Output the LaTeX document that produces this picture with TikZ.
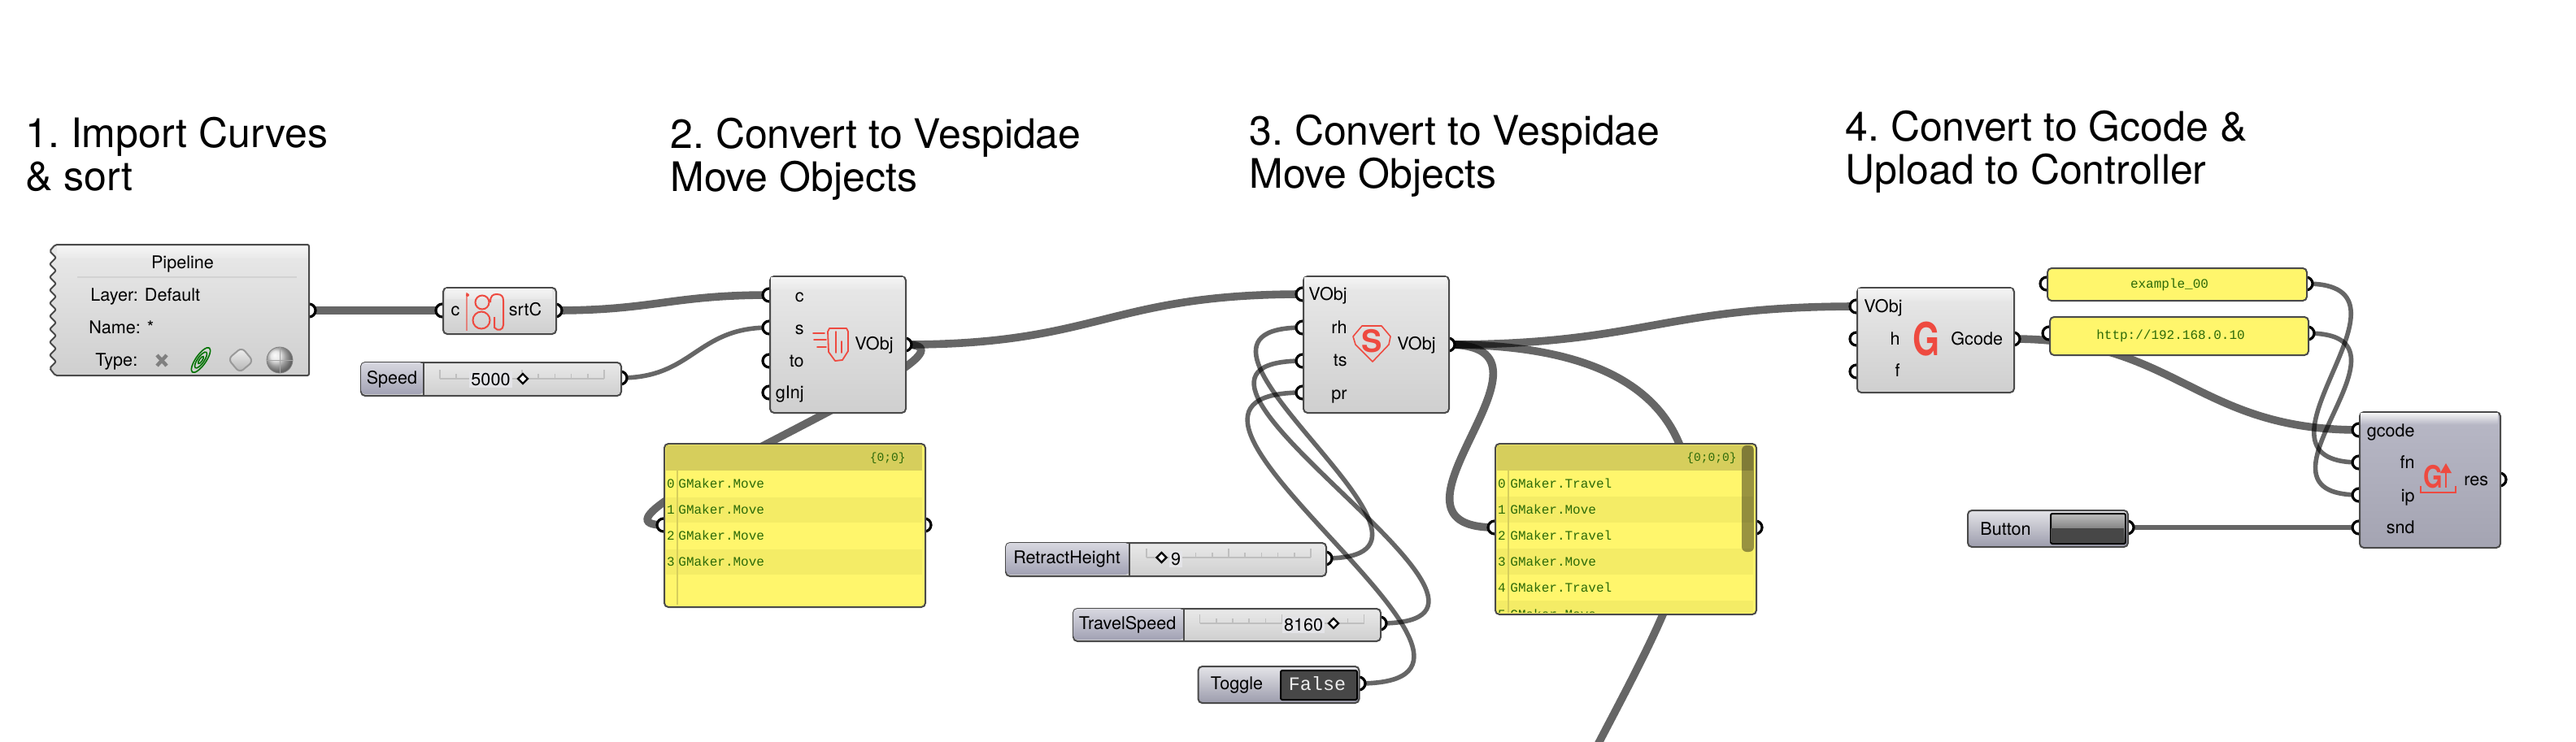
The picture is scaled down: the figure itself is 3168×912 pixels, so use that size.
\documentclass[tikz,border=0pt]{standalone}
\usepackage{fontspec}
\setmainfont{TeX Gyre Heros}
\newfontfamily\monof{Liberation Mono}
\pgfdeclarelayer{bgl}
\pgfdeclarelayer{wires}
\pgfsetlayers{bgl,wires,main}
\definecolor{wirec}{HTML}{000000}
\definecolor{iconred}{HTML}{EE4A40}
\definecolor{edgec}{HTML}{4A4A4A}
\definecolor{paneltxt}{HTML}{2C6A08}
\definecolor{pyellow}{HTML}{FFF66C}
\definecolor{pband}{HTML}{F4EC66}
\definecolor{phead}{HTML}{D6CE5C}
\definecolor{BFBFBF}{HTML}{BFBFBF}
\definecolor{E9E9E9}{HTML}{E9E9E9}
\definecolor{CFCFCF}{HTML}{CFCFCF}
\definecolor{B8B8C6}{HTML}{B8B8C6}
\definecolor{A4A4B2}{HTML}{A4A4B2}
\definecolor{E4E4E8}{HTML}{E4E4E8}
\definecolor{9C9CAC}{HTML}{9C9CAC}
\definecolor{D8D8E0}{HTML}{D8D8E0}
\definecolor{A2A2B4}{HTML}{A2A2B4}
\usetikzlibrary{shapes.geometric}
\tikzset{
  wirethick/.style={draw=wirec,draw opacity=.6,line width=4.8pt},
  wirethin/.style={draw=wirec,draw opacity=.6,line width=2.8pt},
  portn/.style={circle,draw=black,fill=white,line width=1.6pt,minimum size=8pt,inner sep=0pt},
  gcomp/.style={anchor=north west,rounded corners=2.5pt,draw=edgec,line width=1pt,top color=E9E9E9,bottom color=CFCFCF,inner sep=0pt},
  bluecomp/.style={anchor=north west,rounded corners=2.5pt,draw=edgec,line width=1pt,top color=B8B8C6,bottom color=A4A4B2,inner sep=0pt},
  togglebox/.style={anchor=north west,rounded corners=2.5pt,draw=edgec,line width=1pt,top color=E4E4E8,bottom color=9C9CAC,inner sep=0pt},
  panelbox/.style={anchor=north west,rounded corners=2.5pt,draw=edgec,line width=1pt,fill=pyellow,inner sep=0pt},
  lab/.style={font=\fontsize{10.8}{12}\selectfont,inner sep=0pt,text=black},
  ptext/.style={font=\monof\fontsize{8}{9}\selectfont,inner sep=0pt,text=paneltxt},
  ptextb/.style={font=\monof\fontsize{7.3}{9}\selectfont,inner sep=0pt,text=paneltxt},
  titlet/.style={font=\fontsize{25}{26.2}\selectfont\frenchspacing,align=left,anchor=north west,inner sep=0pt,text=black},
  iconline/.style={draw=iconred,line width=.9pt,line join=round,line cap=round},
  railc/.style={draw=BFBFBF,line width=.8pt},
  grip/.style={diamond,draw=black,fill=white,line width=1.2pt,minimum size=6.5pt,inner sep=0pt},
}
\newcommand{\topband}[4]{\fill[top color=white!96!black,bottom color=E9E9E9] (#1+2,#2+2) rectangle (#3-2,#2+#4);}
\newcommand{\slrail}[3]{%
  \draw[railc] (#1,#3) -- (#2,#3);
  \foreach \k in {0,...,10}{\pgfmathsetmacro{\xx}{#1+(#2-#1)*\k/10}
    \pgfmathsetmacro{\hh}{(\k==0||\k==5||\k==10)?11:6}
    \draw[railc] (\xx,#3) -- (\xx,#3-\hh);}}
\newcommand{\sliderleft}[4]{\path[rounded corners=2.5pt,top color=D8D8E0,bottom color=A2A2B4] (#1+1,#2+1) rectangle (#3,#4-1);
  \draw[draw=edgec,line width=.8pt] (#3,#2) -- (#3,#4);}
\begin{document}
\begin{tikzpicture}[x=0.5pt,y=-0.5pt]
\useasboundingbox (0,0) rectangle (3168,912);
\begin{pgfonlayer}{bgl}
\fill[white] (0,0) rectangle (3168,912);
\end{pgfonlayer}

% titles
\node[titlet] (t1) at (31,144) {1. Import Curves\\\& sort};
\node[titlet] (t2) at (824,145) {2. Convert to Vespidae\\Move Objects};
\node[titlet] (t3) at (1536,141) {3. Convert to Vespidae\\Move Objects};
\node[titlet] (t4) at (2269,136) {4. Convert to Gcode \&\\Upload to Controller};

% ports
\node[portn] (pipeO) at (380,382) {};
\node[portn] (srtI) at (544,382) {};
\node[portn] (srtO) at (683,382) {};
\node[portn] (spdO) at (763,465) {};
\node[portn] (c2a) at (946,363) {};
\node[portn] (c2b) at (946,403) {};
\node[portn] (c2c) at (946,444) {};
\node[portn] (c2d) at (946,483) {};
\node[portn] (c2O) at (1113,424) {};
\node[portn] (p1I) at (816,646) {};
\node[portn] (p1O) at (1137,646) {};
\node[portn] (c3a) at (1602,362) {};
\node[portn] (c3b) at (1602,403) {};
\node[portn] (c3c) at (1602,444) {};
\node[portn] (c3d) at (1602,483) {};
\node[portn] (c3O) at (1781,424) {};
\node[portn] (rhO) at (1630,687) {};
\node[portn] (tsO) at (1697,767) {};
\node[portn] (tgO) at (1671,841) {};
\node[portn] (p2I) at (1838,649) {};
\node[portn] (p2O) at (2159,649) {};
\node[portn] (c4a) at (2283,377) {};
\node[portn] (c4b) at (2283,417) {};
\node[portn] (c4c) at (2283,457) {};
\node[portn] (c4O) at (2476,417) {};
\node[portn] (exI) at (2517,349) {};
\node[portn] (exO) at (2836,349) {};
\node[portn] (htI) at (2520,410) {};
\node[portn] (htO) at (2838,410) {};
\node[portn] (c5a) at (2901,529) {};
\node[portn] (c5b) at (2901,569) {};
\node[portn] (c5c) at (2901,609) {};
\node[portn] (c5d) at (2901,649) {};
\node[portn] (c5O) at (3074,590) {};
\node[portn] (btO) at (2616,649) {};
\coordinate (offa) at (2078,640);
\coordinate (offb) at (1950,945);

% pipeline (jagged left edge)
\filldraw[draw=edgec,line width=1pt,top color=E9E9E9,bottom color=CFCFCF,rounded corners=1pt]
  (68,301) -- (61,309) -- (69,317) -- (61,325) -- (69,333) -- (61,341) -- (69,349) -- (61,357) -- (69,365)
  -- (61,373) -- (69,381) -- (61,389) -- (69,397) -- (61,405) -- (69,413) -- (61,421) -- (69,429) -- (61,437)
  -- (69,445) -- (61,453) -- (68,462) -- (380,462) -- (380,301) -- cycle;
\fill[top color=white!96!black,bottom color=E9E9E9] (70,303) rectangle (378,317);
\draw[draw=BFBFBF!70,line width=.6pt] (95,341) -- (365,341);
\node[lab] (pipeT) at (224.5,325) {Pipeline};
\node[lab,anchor=mid west] (pipeL) at (111,365) {Layer: Default};
\node[lab,anchor=mid west] (pipeN) at (109,405) {Name: *};
\node[lab,anchor=mid west] (pipeY) at (117,445) {Type:};
\draw[draw=gray,line width=2.2pt] (193,437) -- (205,450) (205,437) -- (193,450);
\foreach \rr in {14,9,4}{\draw[draw=green!45!black,line width=.8pt,rotate around={55:(247,443)}] (247,443) ellipse ({\rr*1.3} and {\rr*.45});}
\filldraw[draw=gray!80,line width=1pt,top color=white!90!gray,bottom color=gray!60,rounded corners=3pt,rotate around={40:(296,443)}] (285,432) rectangle (307,454);
\shade[ball color=white!75!gray,draw=gray] (344,443) circle (8pt);
\draw[gray!70,line width=.4pt] (344,427) -- (344,459) (328,443) -- (360,443);

% srtC
\node[gcomp,minimum width=69.5pt,minimum height=28.5pt] (srt) at (544,353) {};
\topband{546}{353}{681}{14}
\node[lab,anchor=mid] (srtc) at (560,383) {c};
\node[lab,anchor=mid] (srtcO) at (646,383) {srtC};
\draw[iconred,line width=.7pt,opacity=.6] (574,360) -- (574,407);
\draw[iconred,line width=1pt] (593,372) circle (8.5) (592,394) circle (10.5)
 (603,372) .. controls (603,364) and (606,362) .. (611,362) .. controls (617,362) and (619,365) .. (619,370) -- (619,400) .. controls (619,406) and (612,408) .. (608,403) -- (608,390);
\fill[iconred] (575,363) circle (2);

% speed slider
\node[gcomp,minimum width=160pt,minimum height=20.5pt] (spd) at (443,445) {};
\sliderleft{443}{445}{521}{486}
\slrail{541}{743}{466}
\node[lab] (spdL) at (482,467) {Speed};
\node[lab,fill=E4E4E8,inner sep=1pt] (spdV) at (603.5,467) {5000};
\node[grip] (spdG) at (643,466) {};

% component 2
\node[gcomp,minimum width=83.5pt,minimum height=84pt] (c2) at (946,339) {};
\topband{946}{339}{1113}{16}
\node[lab,anchor=mid east] (c2l1) at (989,366) {c};
\node[lab,anchor=mid east] (c2l2) at (989,406) {s};
\node[lab,anchor=mid east] (c2l3) at (989,446) {to};
\node[lab,anchor=mid east] (c2l4) at (989,485) {gInj};
\node[lab,anchor=mid west] (c2o) at (1051,425) {VObj};
\draw[iconline] (1020,404) -- (1041,404) -- (1043,408) -- (1043,432) -- (1036,443) -- (1027,444) -- (1019,433) -- (1018,408) -- cycle;
\draw[iconline] (1028,408) -- (1028,434) (1035,420) -- (1035,434);
\draw[iconline] (1001,418) -- (1016,418) (1000,410) -- (1014,410) (1005,427) -- (1016,427);

% panel 1
\node[panelbox,minimum width=160.5pt,minimum height=100.5pt] (p1) at (816,545) {};
\fill[phead] (819,548) rectangle (1134,579);
\fill[pband] (819,612) rectangle (1134,643);
\fill[pband] (819,676) rectangle (1134,707);
\draw[phead,line width=1pt] (833,548) -- (833,744);
\node[ptextb,anchor=mid east] (p1h) at (1114,562) {\{0;0\}};
\foreach \i/\yy in {0/595,1/627,2/659,3/691}{
  \node[ptext] (p1i\i) at (825,\yy) {\i};
  \node[ptext,anchor=mid west] (p1t\i) at (834,\yy) {GMaker.Move};
}

% component 3
\node[gcomp,minimum width=89.5pt,minimum height=84pt] (c3) at (1602,339) {};
\topband{1602}{339}{1781}{16}
\node[lab,anchor=mid east] (c3l1) at (1657,364) {VObj};
\node[lab,anchor=mid east] (c3l2) at (1657,405) {rh};
\node[lab,anchor=mid east] (c3l3) at (1657,445) {ts};
\node[lab,anchor=mid east] (c3l4) at (1657,486) {pr};
\node[lab,anchor=mid west] (c3o) at (1718,425) {VObj};
\draw[iconline,line width=.8pt] (1675,401) -- (1699,401) -- (1710,414) -- (1708,424) -- (1688,445) -- (1667,424) -- (1664,414) -- cycle;
\node[font=\bfseries\fontsize{19}{19}\selectfont,text=iconred,inner sep=0pt] (c3s) at (1687,420) {S};

% retract height slider
\node[gcomp,minimum width=197pt,minimum height=20.5pt] (rh) at (1236,667) {};
\sliderleft{1236}{667}{1389}{708}
\slrail{1410}{1612}{686}
\node[lab] (rhL) at (1312,688) {RetractHeight};
\node[lab,fill=E4E4E8,inner sep=1pt] (rhV) at (1446,688) {9};
\node[grip] (rhG) at (1428.5,686) {};

% travel speed slider
\node[gcomp,minimum width=189pt,minimum height=20pt] (ts) at (1319,748) {};
\sliderleft{1319}{748}{1456}{788}
\slrail{1475.5}{1677.5}{767}
\node[lab] (tsL) at (1386.5,769) {TravelSpeed};
\node[lab,fill=E4E4E8,inner sep=1pt] (tsV) at (1603,769) {8160};
\node[grip] (tsG) at (1640,767) {};

% toggle
\node[togglebox,minimum width=99pt,minimum height=22.5pt] (tg) at (1472.5,819) {};
\node[lab] (tgL) at (1521,843) {Toggle};
\node[draw=black,line width=1pt,fill=black!72,anchor=north west,minimum width=47pt,minimum height=18pt,inner sep=0pt,rounded corners=1pt] (tgB) at (1574,824) {};
\node[font=\monof\fontsize{11.7}{12}\selectfont,text=white!92!black,inner sep=0pt] (tgV) at (1620,841) {False};

% panel 2
\node[panelbox,minimum width=160.5pt,minimum height=105pt] (p2) at (1838,545) {};
\begin{scope}
\clip (1840,547) rectangle (2157,753);
\fill[phead] (1841,548) rectangle (2156,579);
\fill[pband] (1841,611) rectangle (2156,643);
\fill[pband] (1841,675) rectangle (2156,707);
\fill[pband] (1841,739) rectangle (2156,755);
\draw[phead,line width=1pt] (1855,548) -- (1855,755);
\node[ptext] (p2i0) at (1847,595) {0};
\node[ptext,anchor=mid west] (p2t0) at (1857,595) {GMaker.Travel};
\node[ptext] (p2i1) at (1847,627) {1};
\node[ptext,anchor=mid west] (p2t1) at (1857,627) {GMaker.Move};
\node[ptext] (p2i2) at (1847,659) {2};
\node[ptext,anchor=mid west] (p2t2) at (1857,659) {GMaker.Travel};
\node[ptext] (p2i3) at (1847,691) {3};
\node[ptext,anchor=mid west] (p2t3) at (1857,691) {GMaker.Move};
\node[ptext] (p2i4) at (1847,723) {4};
\node[ptext,anchor=mid west] (p2t4) at (1857,723) {GMaker.Travel};
\node[ptext] (p2i5) at (1847,756) {5};
\node[ptext,anchor=mid west] (p2t5) at (1857,756) {GMaker.Move};
\end{scope}
\node[ptextb,anchor=mid east] (p2h) at (2136,562) {\{0;0;0\}};
\fill[black,opacity=.4,rounded corners=3pt] (2142,548) rectangle (2157,679);

% component 4
\node[gcomp,minimum width=96.5pt,minimum height=64.5pt] (c4) at (2283,353) {};
\topband{2283}{353}{2476}{16}
\node[lab,anchor=mid west] (c4l1) at (2292,379) {VObj};
\node[lab,anchor=mid east] (c4l2) at (2337,419) {h};
\node[lab,anchor=mid east] (c4l3) at (2337,458) {f};
\node[lab,anchor=mid west] (c4o) at (2399,419) {Gcode};
\node[font=\bfseries\fontsize{28}{28}\selectfont,text=iconred,inner sep=0pt,xscale=.76] (c4g) at (2369,417) {G};

% text panels
\node[panelbox,minimum width=159.5pt,minimum height=20pt] (ex) at (2517,329) {};
\node[ptext] (exT) at (2668,350) {example\_00};
\node[panelbox,minimum width=159pt,minimum height=23.5pt] (ht) at (2520,389) {};
\node[ptext] (htT) at (2669.5,413) {http://192.168.0.10};

% component 5
\node[bluecomp,minimum width=86.5pt,minimum height=83.5pt] (c5) at (2901,506) {};
\fill[top color=white!96!black,bottom color=B8B8C6] (2903,508) rectangle (3072,522);
\node[lab,anchor=mid east] (c5l1) at (2970,532) {gcode};
\node[lab,anchor=mid east] (c5l2) at (2970,571) {fn};
\node[lab,anchor=mid east] (c5l3) at (2970,612) {ip};
\node[lab,anchor=mid east] (c5l4) at (2970,651) {snd};
\node[lab,anchor=mid west] (c5o) at (3030,592) {res};
\node[font=\bfseries\fontsize{19}{19}\selectfont,text=iconred,inner sep=0pt,xscale=.8] (c5g) at (2992,587) {G};
\draw[iconred,line width=1.3pt] (3008,600) -- (3008,578);
\fill[iconred] (3001,582) -- (3008,570) -- (3015,582) -- cycle;
\draw[iconred,line width=1.3pt] (2977,598) -- (2977,606) -- (3020,606) -- (3020,598);

% button
\node[togglebox,minimum width=98.5pt,minimum height=22.5pt] (bt) at (2419,627) {};
\node[lab] (btL) at (2466.5,651) {Button};
\node[draw=black,line width=1pt,anchor=north west,minimum width=46pt,minimum height=18.5pt,inner sep=0pt,rounded corners=1pt,top color=white!75!black,bottom color=black!72] (btB) at (2521,631) {};
\fill[black!72] (2522,650) rectangle (2612,667);

% wires
\begin{pgfonlayer}{wires}
\draw[wirethick] (pipeO.center) -- (srtI.center);
\draw[wirethick] (srtO.center) .. controls +(120,0) and +(-120,0) .. (c2a.center);
\draw[wirethin] (spdO.center) .. controls +(90,0) and +(-90,0) .. (c2b.center);
\draw[wirethick] (c2O.center) .. controls +(240,0) and +(-240,0) .. (c3a.center);
\draw[wirethick] (c2O.center) .. controls +(130,0) and +(-130,0) .. (p1I.center);
\draw[wirethin] (rhO.center) .. controls +(210,0) and +(-210,0) .. (c3b.center);
\draw[wirethin] (tsO.center) .. controls +(240,0) and +(-240,0) .. (c3c.center);
\draw[wirethin] (tgO.center) .. controls +(260,0) and +(-260,0) .. (c3d.center);
\draw[wirethick] (c3O.center) .. controls +(240,0) and +(-240,0) .. (c4a.center);
\draw[wirethick] (c3O.center) .. controls +(165,0) and +(-165,0) .. (p2I.center);
\draw[wirethick] (c3O.center) .. controls +(165,0) and (2090,470) .. (offa) .. controls (2072,720) and (2020,810) .. (offb);
\draw[wirethick] (c4O.center) .. controls +(200,0) and +(-200,0) .. (c5a.center);
\draw[wirethin] (exO.center) .. controls +(160,0) and +(-160,0) .. (c5b.center);
\draw[wirethin] (htO.center) .. controls +(155,0) and +(-155,0) .. (c5c.center);
\draw[wirethin] (btO.center) -- (c5d.center);
\end{pgfonlayer}
\end{tikzpicture}
\end{document}
